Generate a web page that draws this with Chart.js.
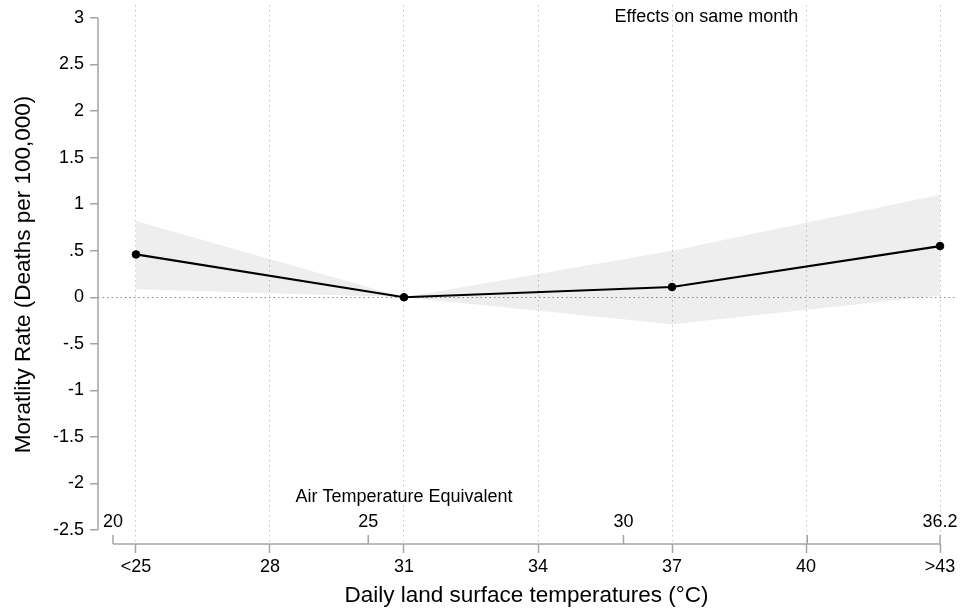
<!DOCTYPE html>
<html>
<head>
<meta charset="utf-8">
<script src="https://cdn.jsdelivr.net/npm/chart.js@4.4.1/dist/chart.umd.min.js"></script>
<style>
  html, body { margin: 0; padding: 0; background: #fff; }
</style>
</head>
<body>
<canvas id="chart" width="960" height="610"></canvas>
<script>
// ---------- Data ----------
const landTemps = [25, 31, 37, 43];
const effect = [0.46, 0, 0.11, 0.55];
const ciUpper = [0.82, 0, 0.50, 1.10];
const ciLower = [0.085, 0, -0.29, 0.02];

const xTicks = [25, 28, 31, 34, 37, 40, 43];
const xTickLabels = ["<25", "28", "31", "34", "37", "40", ">43"];
const yTicks = [-2.5, -2, -1.5, -1, -0.5, 0, 0.5, 1, 1.5, 2, 2.5, 3];
const airTicks = [20, 25, 30, 33.6, 36.2];
const airTickLabels = ["20", "25", "30", "", "36.2"];

const FONT = "'Liberation Sans', Arial, Helvetica, sans-serif";
const AXIS_GRAY = "#a4a4a4";

const pts = vals => landTemps.map((t, i) => ({ x: t, y: vals[i] }));

// y labels the Stata way: .5, -.5
const stataNum = v => String(v).replace(/^(-?)0\./, "$1.");

// no extra room for half labels at the ends
const noEndPadding = s => {
  s.paddingTop = 0; s.paddingBottom = 0;
  s.paddingLeft = 0; s.paddingRight = 0;
};

// ---------- Axis lines, zero line, secondary axis ----------
const stataAxes = {
  id: "stataAxes",
  beforeDatasetsDraw(chart) {
    const { ctx, chartArea, scales: { y } } = chart;
    const y0 = Math.round(y.getPixelForValue(0)) + 0.5;
    ctx.save();
    ctx.strokeStyle = "#8a8a8a";
    ctx.lineWidth = 1;
    ctx.setLineDash([1.5, 3]);
    ctx.beginPath();
    ctx.moveTo(chartArea.left, y0);
    ctx.lineTo(chartArea.right, y0);
    ctx.stroke();
    ctx.restore();
  },
  afterDraw(chart) {
    const { ctx, chartArea, scales: { x, y, xAir } } = chart;
    ctx.save();
    ctx.strokeStyle = AXIS_GRAY;
    ctx.lineWidth = 1.5;

    // y axis line, only between first and last tick
    ctx.beginPath();
    ctx.moveTo(chartArea.left, y.getPixelForValue(yTicks[yTicks.length - 1]));
    ctx.lineTo(chartArea.left, y.getPixelForValue(yTicks[0]));
    ctx.stroke();

    // x axis line, from first air tick to last land tick
    const base = x.top;
    ctx.beginPath();
    ctx.moveTo(xAir.getPixelForValue(airTicks[0]), base);
    ctx.lineTo(x.getPixelForValue(xTicks[xTicks.length - 1]), base);
    ctx.stroke();

    // air temperature ticks point up
    ctx.fillStyle = "#000";
    ctx.font = "18px " + FONT;
    ctx.textAlign = "center";
    ctx.textBaseline = "middle";
    airTicks.forEach((v, i) => {
      const px = xAir.getPixelForValue(v);
      ctx.beginPath();
      ctx.moveTo(px, base);
      ctx.lineTo(px, base - 9);
      ctx.stroke();
      if (airTickLabels[i]) ctx.fillText(airTickLabels[i], px, base - 22);
    });
    ctx.fillText("Air Temperature Equivalent", x.getPixelForValue(31), base - 47);

    // panel note
    ctx.fillText("Effects on same month", x.getPixelForValue(37.77), 17);
    ctx.restore();
  }
};

// ---------- Chart ----------
new Chart(document.getElementById("chart"), {
  type: "line",
  data: {
    datasets: [
      {
        label: "Effect",
        data: pts(effect),
        xAxisID: "x",
        borderColor: "#000",
        borderWidth: 2.2,
        pointRadius: 3.8,
        pointBorderWidth: 1,
        pointBackgroundColor: "#000",
        pointBorderColor: "#000",
        fill: false
      },
      {
        label: "CI upper",
        data: pts(ciUpper),
        xAxisID: "x",
        borderWidth: 0,
        pointRadius: 0,
        backgroundColor: "rgba(0,0,0,0.065)",
        fill: "+1"
      },
      {
        label: "CI lower",
        data: pts(ciLower),
        xAxisID: "x",
        borderWidth: 0,
        pointRadius: 0,
        fill: false
      }
    ]
  },
  options: {
    responsive: false,
    animation: false,
    layout: { padding: { top: 2, right: 4, left: 0, bottom: 0 } },
    plugins: {
      legend: { display: false },
      tooltip: { enabled: false }
    },
    scales: {
      x: {
        type: "linear",
        min: 24.15,
        max: 43.335,
        afterBuildTicks: s => { s.ticks = xTicks.map(v => ({ value: v })); },
        afterFit: s => { s.height = 66; noEndPadding(s); },
        border: { display: false, dash: [1.5, 3.5] },
        grid: {
          color: "#c4c4c4",
          lineWidth: 1,
          tickLength: 9,
          tickColor: AXIS_GRAY,
          tickWidth: 1.5,
          tickBorderDash: []
        },
        ticks: {
          color: "#000",
          font: { family: FONT, size: 18 },
          padding: 3,
          maxRotation: 0,
          callback: v => xTickLabels[xTicks.indexOf(v)]
        },
        title: {
          display: true,
          text: "Daily land surface temperatures (°C)",
          color: "#000",
          font: { family: FONT, size: 22.5 },
          padding: { top: 0, bottom: 1 }
        }
      },
      xAir: {
        type: "linear",
        axis: "x",
        display: false,
        min: 19.7065,
        max: 36.4935
      },
      y: {
        type: "linear",
        min: -2.65,
        max: 3.139,
        afterBuildTicks: s => { s.ticks = yTicks.map(v => ({ value: v })); },
        afterFit: s => { s.width = 98; noEndPadding(s); },
        border: { display: false },
        grid: {
          drawOnChartArea: false,
          tickLength: 8,
          color: AXIS_GRAY,
          lineWidth: 1.5
        },
        ticks: {
          color: "#000",
          font: { family: FONT, size: 18 },
          padding: 6,
          callback: v => stataNum(v)
        },
        title: {
          display: true,
          text: "Moratlity Rate (Deaths per 100,000)",
          color: "#000",
          font: { family: FONT, size: 22.5 },
          padding: { top: 10, bottom: 0 }
        }
      }
    }
  },
  plugins: [stataAxes]
});
</script>
</body>
</html>
